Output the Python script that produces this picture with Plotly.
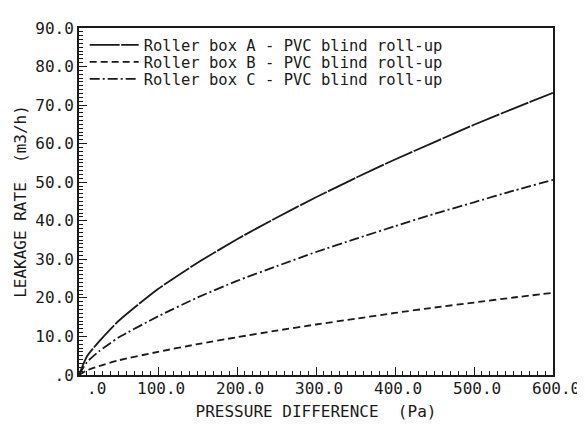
import plotly.graph_objects as go

pressure = [0, 10, 25, 50, 100, 150, 200, 250, 300, 350, 400, 450, 500, 550, 600]
box_a = [0, 4.8, 8.6, 14.0, 22.3, 29.1, 35.2, 40.8, 46.1, 51.1, 55.9, 60.4, 64.9, 69.1, 73.2]
box_b = [0, 1.2, 2.3, 3.8, 6.0, 8.0, 9.8, 11.5, 13.1, 14.6, 16.1, 17.5, 18.8, 20.1, 21.3]
box_c = [0, 3.3, 6.1, 9.7, 15.2, 20.1, 24.4, 28.2, 31.9, 35.3, 38.6, 41.8, 44.8, 47.8, 50.6]

names = ["Roller box A - PVC blind roll-up",
         "Roller box B - PVC blind roll-up",
         "Roller box C - PVC blind roll-up"]
x_ticks = [0, 100, 200, 300, 400, 500, 600]
x_ticktext = [".0", "100.0", "200.0", "300.0", "400.0", "500.0", "600.0"]
y_ticks = [0, 10, 20, 30, 40, 50, 60, 70, 80, 90]
y_ticktext = [".0", "10.0", "20.0", "30.0", "40.0", "50.0", "60.0", "70.0", "80.0", "90.0"]

FONT = "DejaVu Sans Mono"
INK = "#1a1a1a"

fig = go.Figure()
dashes = ["30px,1.5px", "7px,4px", "10px,3px,2px,3px"]
legend_ids = ["legend", "legend2", "legend3"]
legend_y = [0.950, 0.901, 0.852]
for ys, nm, d, lg in zip([box_a, box_b, box_c], names, dashes, legend_ids):
    fig.add_trace(go.Scatter(
        x=pressure, y=ys, mode="lines", name=nm, legend=lg,
        line=dict(color=INK, width=1.8, dash=d, shape="spline", smoothing=0.6),
    ))

legend_common = dict(x=0.012, xanchor="left", yanchor="middle",
                     bgcolor="rgba(0,0,0,0)", font=dict(size=15.5, family=FONT, color=INK),
                     itemwidth=49)
# page body has an 8px default margin: shrink figure and margins to compensate
fig.update_layout(
    width=577, height=419,
    margin=dict(l=70, r=32, t=11, b=51),
    paper_bgcolor="white", plot_bgcolor="white",
    font=dict(family=FONT, color=INK, size=15),
    showlegend=True,
    legend=dict(y=legend_y[0], **legend_common),
    legend2=dict(y=legend_y[1], **legend_common),
    legend3=dict(y=legend_y[2], **legend_common),
)

fig.update_xaxes(
    range=[0, 600], showgrid=False, zeroline=False,
    showline=True, linecolor=INK, linewidth=2, mirror=True,
    ticks="inside", tickcolor=INK, ticklen=8, tickwidth=1.2,
    tickvals=x_ticks, showticklabels=False,
    minor=dict(ticks="inside", dtick=10, ticklen=4, tickcolor=INK, tickwidth=1, showgrid=False),
    title=dict(text="PRESSURE DIFFERENCE  (Pa)", font=dict(size=16, family=FONT), standoff=30),
)
fig.update_yaxes(
    range=[0, 90], showgrid=False, zeroline=False,
    showline=True, linecolor=INK, linewidth=2, mirror=True,
    ticks="inside", tickcolor=INK, ticklen=8, tickwidth=1.2,
    tickvals=y_ticks, ticktext=y_ticktext, tickfont=dict(size=16, family=FONT),
    minor=dict(ticks="inside", dtick=1, ticklen=4, tickcolor=INK, tickwidth=1, showgrid=False),
    title=dict(text="LEAKAGE RATE  (m3/h)", font=dict(size=16, family=FONT), standoff=5),
)

for v, t in zip(x_ticks, x_ticktext):
    fig.add_annotation(x=v, y=0, xref="x", yref="paper", text=t, showarrow=False,
                       xanchor="right", yanchor="top", xshift=29, yshift=-2,
                       font=dict(size=16, family=FONT, color=INK))

fig.write_html("out.html")
